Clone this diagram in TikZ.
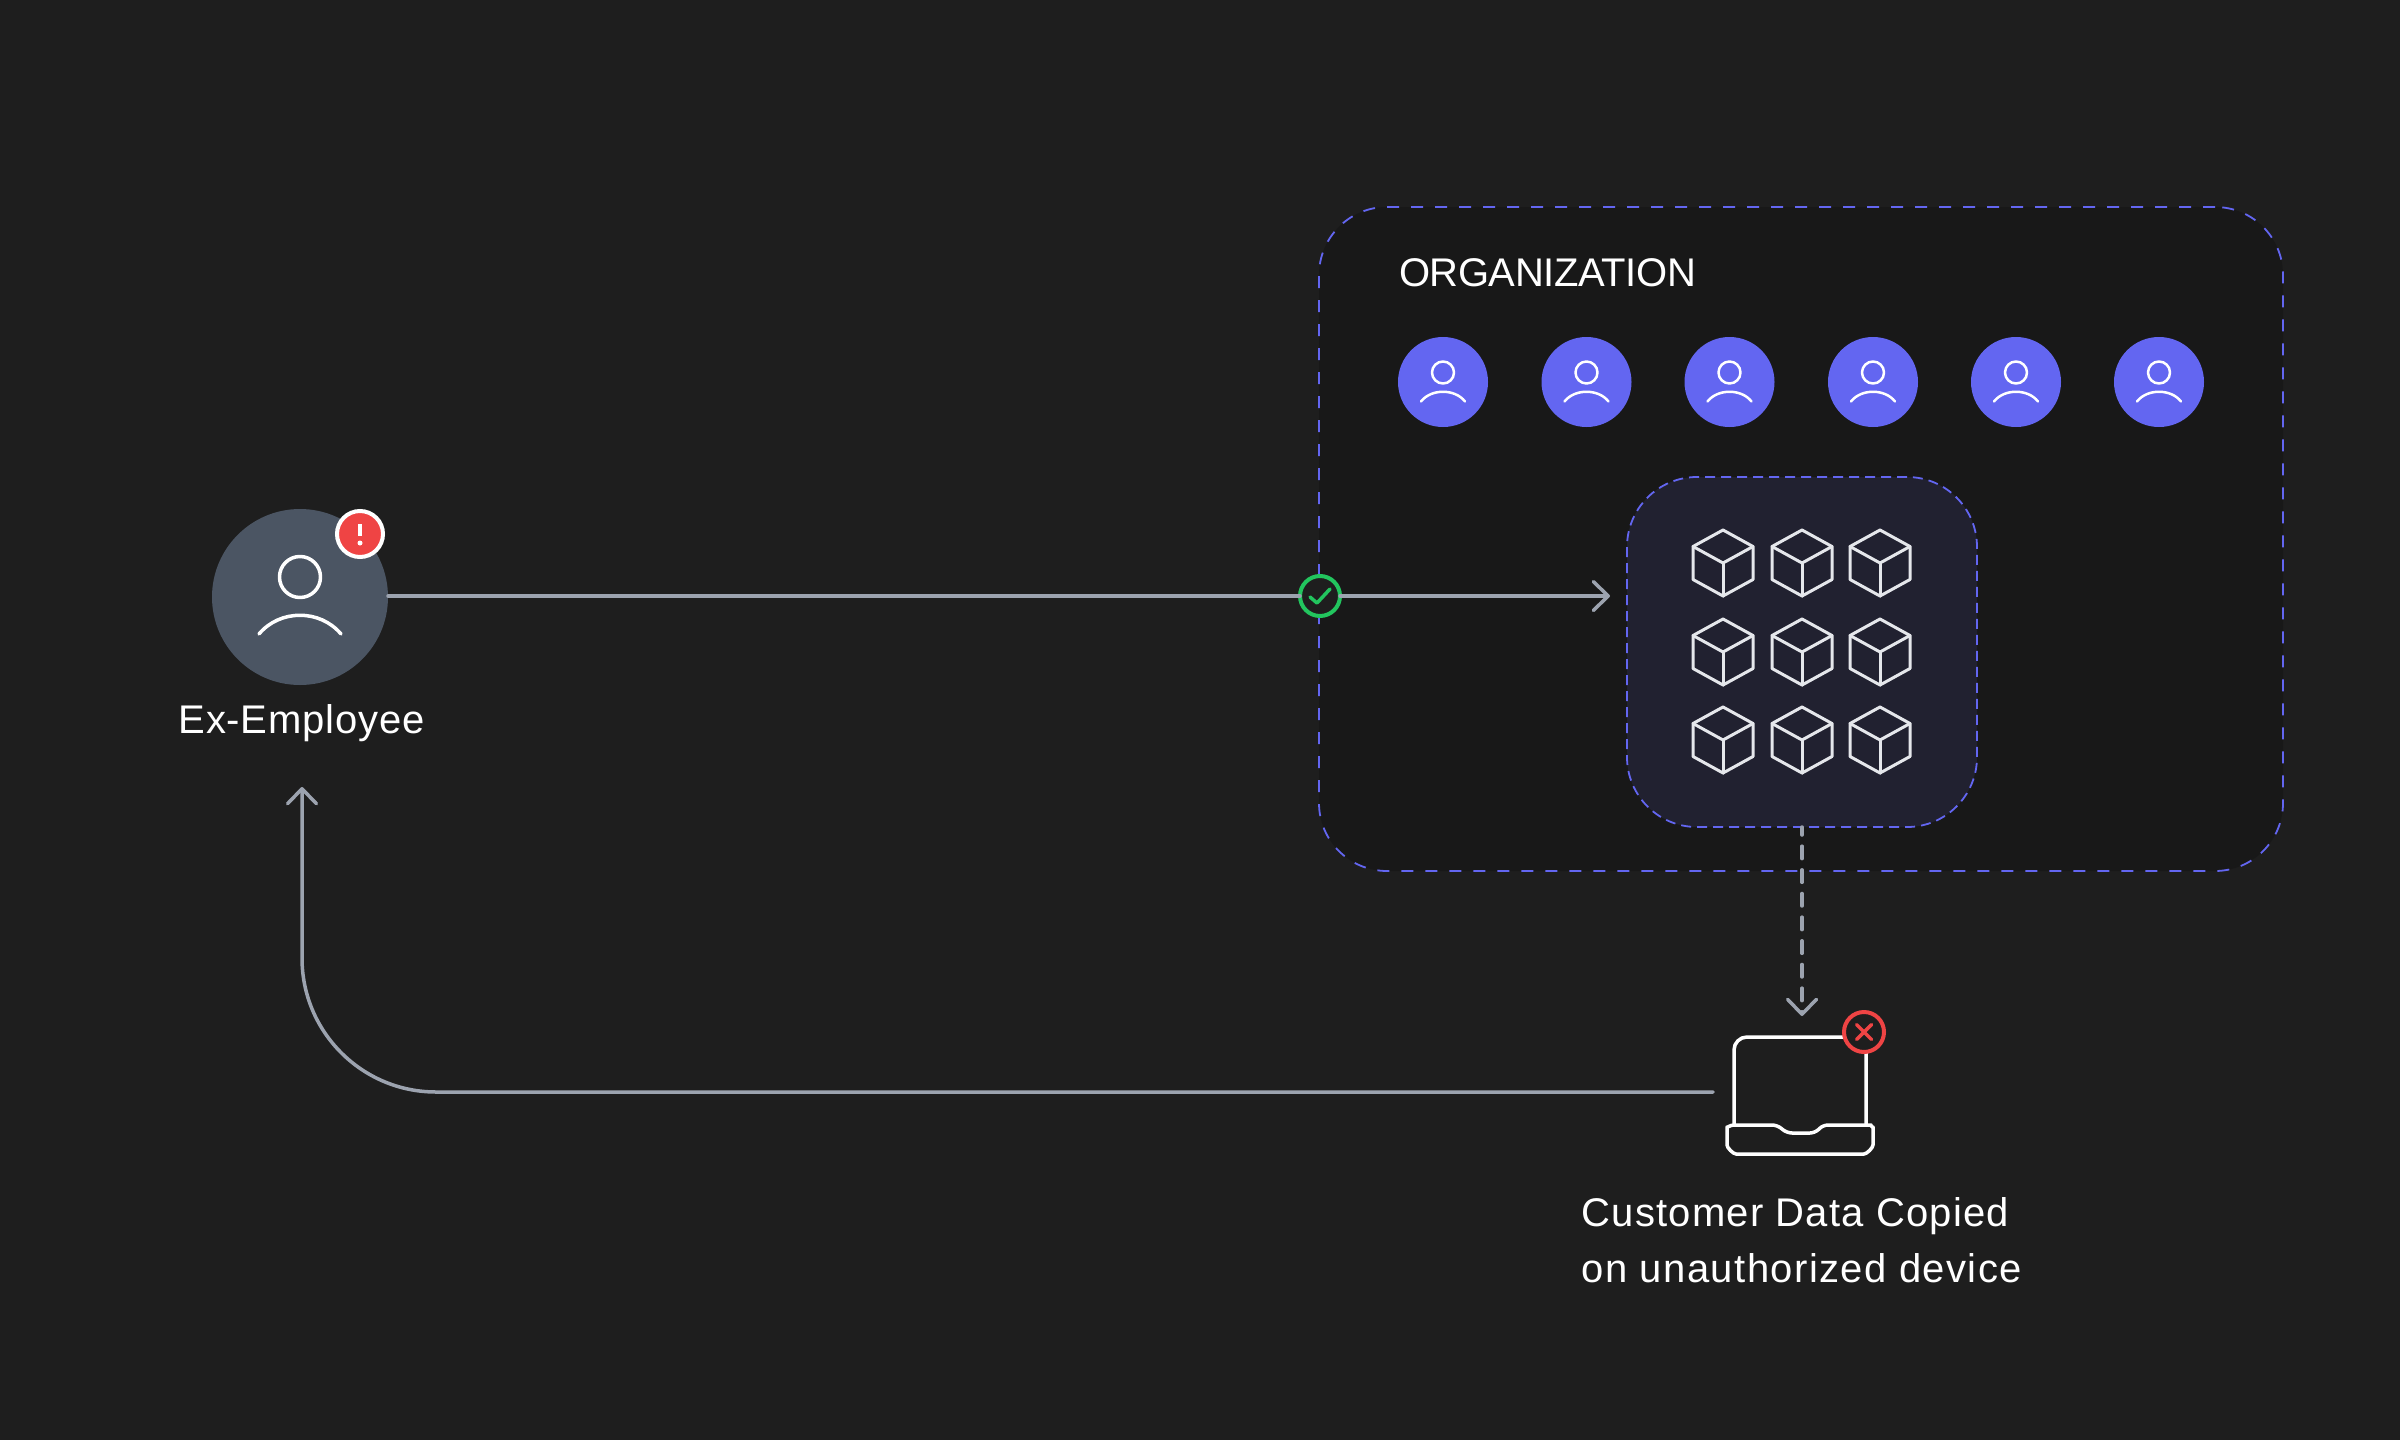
\documentclass[tikz,border=0pt]{standalone}
\usepackage{fontspec}
\setmainfont{Liberation Sans}
\usetikzlibrary{arrows.meta}
\definecolor{bgdark}{HTML}{1E1E1E}
\definecolor{orgdark}{HTML}{181818}
\definecolor{datadark}{HTML}{212130}
\definecolor{indigo}{HTML}{6366F1}
\definecolor{slate}{HTML}{4B5563}
\definecolor{flowgray}{HTML}{9CA3AF}
\definecolor{alertred}{HTML}{EF4444}
\definecolor{okgreen}{HTML}{22C55E}
\definecolor{cubewhite}{HTML}{E5E7EB}
\tikzset{
  circlenode/.style={circle,inner sep=0pt,outer sep=0pt,minimum size=#1*0.5pt},
  orgbox/.style={draw=indigo,fill=orgdark,line width=0.9pt,dash pattern=on 6pt off 6pt,
    rounded corners=34pt,minimum width=482pt,minimum height=332pt,inner sep=0pt,outer sep=0pt},
  databox/.style={draw=indigo,fill=datadark,line width=0.9pt,dash pattern=on 5pt off 3pt,
    rounded corners=35pt,minimum width=175pt,minimum height=175pt,inner sep=0pt,outer sep=0pt},
  flow/.style={draw=flowgray,line width=1.75pt,line cap=round,
    -{Straight Barb[length=7.5pt,width=14.5pt,round]}},
  flowline/.style={draw=flowgray,line width=1.75pt,line cap=round},
  icon/.style={draw=white,line width=1.25pt,line cap=round,line join=round},
  bigicon/.style={icon,line width=1.75pt},
  cubeline/.style={draw=cubewhite,line width=1.5pt,line cap=round,line join=round},
  label/.style={text=white,inner sep=0pt,outer sep=0pt,font=\fontsize{20}{28}\selectfont},
  user/.pic={
    \draw[icon] (0,-9.5) circle (11);
    \draw[icon] (-22,19.5) .. controls (-12,6.5) and (12,6.5) .. (22,19.5);
  },
  cube/.pic={
    \draw[cubeline] (0,-33)--(30,-16.5)--(30,16.5)--(0,33)--(-30,16.5)--(-30,-16.5)--cycle;
    \draw[cubeline] (-30,-16.5)--(0,0)--(30,-16.5);
    \draw[cubeline] (0,0)--(0,33);
  }
}
\begin{document}
\begin{tikzpicture}[x=0.5pt,y=-0.5pt]
\fill[bgdark] (0,0) rectangle (2400,1440);
\useasboundingbox (0,0) rectangle (2400,1440);
% organization
\node [orgbox] (org) at (1801,539) {};
\node [label,anchor=base west] (orglabel) at (1399,286) {\addfontfeatures{LetterSpace=-1}ORGANIZATION};
\node [circlenode=90,fill=indigo] (u1) at (1443,382) {};
\node [circlenode=90,fill=indigo] (u2) at (1586.5,382) {};
\node [circlenode=90,fill=indigo] (u3) at (1729.5,382) {};
\node [circlenode=90,fill=indigo] (u4) at (1873,382) {};
\node [circlenode=90,fill=indigo] (u5) at (2016,382) {};
\node [circlenode=90,fill=indigo] (u6) at (2159,382) {};
\pic at (u1) {user};
\pic at (u2) {user};
\pic at (u3) {user};
\pic at (u4) {user};
\pic at (u5) {user};
\pic at (u6) {user};
% customer data
\node [databox] (data) at (1802,652) {};
\pic at (1723,563) {cube};
\pic at (1802,563) {cube};
\pic at (1880,563) {cube};
\pic at (1723,652) {cube};
\pic at (1802,652) {cube};
\pic at (1880,652) {cube};
\pic at (1723,740) {cube};
\pic at (1802,740) {cube};
\pic at (1880,740) {cube};
% ex-employee
\node [circlenode=176,fill=slate] (ex) at (300,597) {};
\draw [bigicon] (300,577) circle (20.5);
\draw [bigicon] (259,634) .. controls (280,609) and (320,609) .. (341,634);
\node [circlenode=46,fill=alertred,draw=white,line width=2pt] (alert) at (360,534) {};
\draw [bigicon,line width=2pt,line cap=butt] (360,524) -- (360,536);
\fill [white] (360,543) circle (2.5);
\node [label,anchor=base] (exlabel) at (301.5,733) {\addfontfeatures{LetterSpace=2}Ex-Employee};
% access
\coordinate (dataend) at (1610,596);
\node [circlenode=40,fill=bgdark,draw=okgreen,line width=2pt] (check) at (1320,596) {};
\draw [flowline] (ex.east |- check) -- (check);
\draw [flow] (check) -- (dataend);
\draw [draw=okgreen,line width=1.75pt,line cap=round,line join=round] (1310,597) -- (1317,603) -- (1330,589);
% laptop
\draw [bigicon] (1734,1125) -- (1734,1050) arc (180:270:13) -- (1866,1037) -- (1866,1125);
\draw [bigicon,rounded corners=2.5pt] (1734,1125) -- (1777,1125) -- (1787,1133) -- (1815,1133) -- (1823,1125) -- (1866,1125)
  .. controls (1870,1125) and (1873,1128) .. (1873,1132) -- (1873,1140) arc (0:90:14) -- (1741,1154) arc (90:180:14)
  -- (1727,1132) .. controls (1727,1128) and (1730,1125) .. (1734,1125);
\node [circlenode=40,fill=bgdark,draw=alertred,line width=2pt] (denied) at (1864,1032) {};
\draw [draw=alertred,line width=1.75pt,line cap=round] (1856.5,1024.5) -- (1871.5,1039.5);
\draw [draw=alertred,line width=1.75pt,line cap=round] (1871.5,1024.5) -- (1856.5,1039.5);
\coordinate (copyend) at (1802,1016);
\draw [flow,dash pattern=on 6.25pt off 5.58pt,dash phase=2.25pt] (data.south) -- (copyend);
\coordinate (laptopout) at (1713,1092);
\coordinate (exend) at (302,787);
\draw [flow,rounded corners=67pt] (laptopout) -| (exend);
\node [label,align=left,anchor=center] (copylabel) at (1801.7,1240) {\addfontfeatures{LetterSpace=3}Customer Data Copied\\\addfontfeatures{LetterSpace=3.5}on unauthorized device};
\end{tikzpicture}
\end{document}
